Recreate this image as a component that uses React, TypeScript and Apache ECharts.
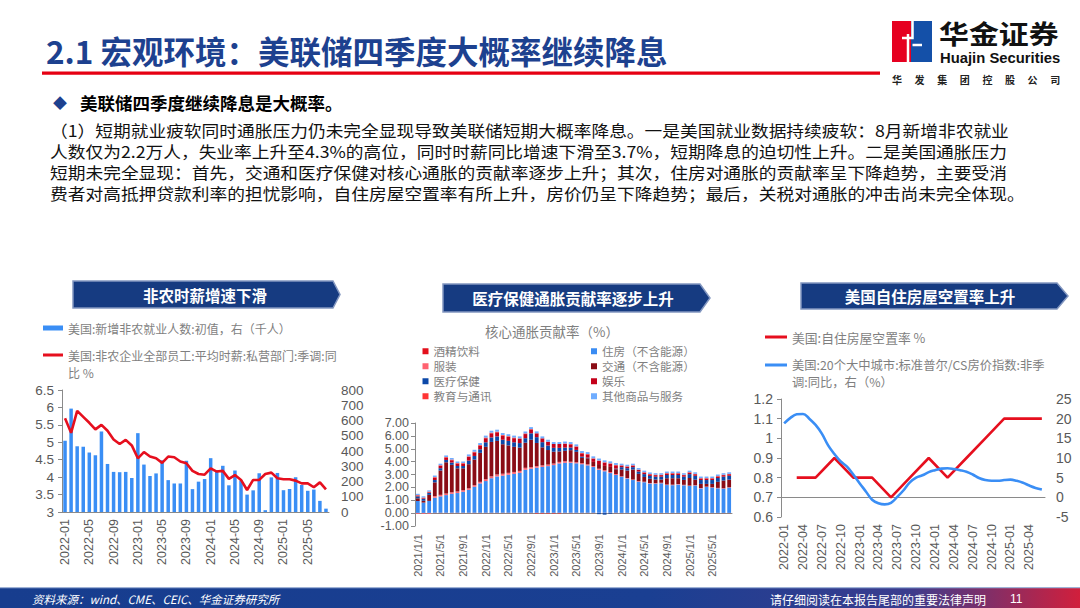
import React, { useEffect, useRef } from 'react';
import * as echarts from 'echarts';

// ---------- Left chart: payrolls & hourly earnings ----------
const payrollMonths = [
  '2022-01','2022-02','2022-03','2022-04','2022-05','2022-06','2022-07','2022-08','2022-09','2022-10','2022-11','2022-12',
  '2023-01','2023-02','2023-03','2023-04','2023-05','2023-06','2023-07','2023-08','2023-09','2023-10','2023-11','2023-12',
  '2024-01','2024-02','2024-03','2024-04','2024-05','2024-06','2024-07','2024-08','2024-09','2024-10','2024-11','2024-12',
  '2025-01','2025-02','2025-03','2025-04','2025-05','2025-06','2025-07','2025-08',
];
const payrollValues = [
  467,678,431,428,390,372,528,315,263,261,263,223,
  517,311,236,253,339,209,187,187,336,150,199,216,
  353,275,303,175,272,206,114,142,254,12,227,256,
  143,151,228,177,139,147,73,22,
];
const wageGrowth = [
  5.69,5.27,5.9,5.73,5.56,5.37,5.5,5.33,5.08,4.95,5.07,4.91,
  4.54,4.72,4.59,4.54,4.41,4.59,4.57,4.45,4.4,4.18,4.09,4.07,
  4.25,4.16,4.18,3.95,4.06,3.92,3.63,3.92,3.92,4.09,4.13,3.97,
  3.94,3.94,3.9,3.82,3.82,3.71,3.85,3.65,
];

// ---------- Middle chart: core CPI contributions ----------
const cpiMonths = [
  '2021/1/1','2021/2/1','2021/3/1','2021/4/1','2021/5/1','2021/6/1','2021/7/1','2021/8/1','2021/9/1','2021/10/1','2021/11/1','2021/12/1',
  '2022/1/1','2022/2/1','2022/3/1','2022/4/1','2022/5/1','2022/6/1','2022/7/1','2022/8/1','2022/9/1','2022/10/1','2022/11/1','2022/12/1',
  '2023/1/1','2023/2/1','2023/3/1','2023/4/1','2023/5/1','2023/6/1','2023/7/1','2023/8/1','2023/9/1','2023/10/1','2023/11/1','2023/12/1',
  '2024/1/1','2024/2/1','2024/3/1','2024/4/1','2024/5/1','2024/6/1','2024/7/1','2024/8/1','2024/9/1','2024/10/1','2024/11/1','2024/12/1',
  '2025/1/1','2025/2/1','2025/3/1','2025/4/1','2025/5/1','2025/6/1','2025/7/1','2025/8/1',
];
const cpiAlcohol = [
  0.02,0.02,0.02,0.03,0.03,0.03,0.03,0.03,0.03,0.03,
  0.03,0.03,0.03,0.03,0.03,0.03,0.03,0.03,0.03,0.03,
  0.03,0.03,0.03,0.03,0.03,0.03,0.03,0.03,0.03,0.03,
  0.03,0.03,0.03,0.03,0.03,0.03,0.02,0.02,0.02,0.02,
  0.02,0.02,0.02,0.02,0.02,0.02,0.02,0.02,0.02,0.02,
  0.02,0.02,0.02,0.02,0.02,0.02,
];
const cpiHousing = [
  0.92,0.80,0.93,1.17,1.27,1.37,1.47,1.53,1.63,1.78,
  2.02,2.28,2.46,2.68,2.82,2.88,2.95,3.02,3.10,3.34,
  3.42,3.50,3.56,3.62,3.70,3.83,3.88,3.88,3.84,3.77,
  3.68,3.55,3.34,3.22,3.08,2.93,2.80,2.67,2.55,2.42,
  2.38,2.28,2.27,2.30,2.16,2.15,2.20,2.14,2.09,2.12,
  1.90,2.01,1.96,1.91,1.88,1.96,
];
const cpiApparel = [
  -0.06,-0.06,-0.06,0.12,0.12,0.12,0.12,0.12,0.12,0.12,
  0.12,0.12,0.15,0.15,0.15,0.15,0.15,0.15,0.15,0.15,
  0.12,0.12,0.12,0.12,0.12,0.12,0.12,0.08,0.08,0.08,
  0.08,0.08,0.08,0.08,0.08,0.08,0.04,0.04,0.04,0.04,
  0.04,0.04,0.04,0.04,0.04,0.04,0.04,0.04,0.03,0.03,
  0.03,0.03,0.03,0.03,0.03,0.03,
];
const cpiTransport = [
  0.21,0.14,0.47,1.07,1.89,2.43,2.13,1.80,1.70,1.87,
  1.99,2.25,2.51,2.67,2.61,2.29,2.13,1.95,1.81,1.95,
  2.13,1.80,1.40,1.13,0.92,0.81,0.81,0.90,0.81,0.41,
  0.47,0.32,0.36,0.34,0.40,0.37,0.53,0.58,0.78,0.57,
  0.37,0.33,0.28,0.25,0.49,0.50,0.45,0.38,0.59,0.43,
  0.32,0.21,0.26,0.47,0.60,0.59,
];
const cpiMedical = [
  0.15,0.15,0.15,0.18,0.18,0.18,0.18,0.18,0.18,0.28,
  0.28,0.28,0.35,0.35,0.35,0.35,0.35,0.35,0.35,0.35,
  0.5,0.45,0.4,0.35,0.3,0.28,0.25,0.2,0.15,0.1,
  0.05,0,-0.08,-0.12,-0.05,0.05,0.18,0.18,0.18,0.18,
  0.22,0.22,0.22,0.22,0.25,0.25,0.25,0.25,0.3,0.3,
  0.3,0.3,0.3,0.3,0.3,0.3,
];
const cpiRecreation = [
  0.05,0.05,0.05,0.18,0.18,0.18,0.18,0.18,0.18,0.28,
  0.28,0.28,0.32,0.32,0.32,0.32,0.32,0.32,0.32,0.32,
  0.3,0.3,0.3,0.3,0.3,0.3,0.3,0.25,0.25,0.25,
  0.25,0.25,0.25,0.25,0.25,0.25,0.12,0.12,0.12,0.12,
  0.12,0.12,0.12,0.12,0.12,0.12,0.12,0.12,0.12,0.12,
  0.12,0.12,0.12,0.12,0.12,0.12,
];
const cpiEducation = [
  0.05,0.05,0.05,0.05,0.05,0.05,0.05,0.05,0.05,0.05,
  0.05,0.05,0.05,0.05,0.05,0.05,0.05,0.05,0.05,0.05,
  0.03,-0.04,-0.04,-0.04,-0.04,-0.04,0.02,0.03,0.03,0.03,
  0.03,0.03,0.03,0.03,0.03,0.03,0.03,0.03,0.03,0.03,
  0.03,0.03,0.03,0.03,0.03,0.03,0.03,0.03,0.03,0.03,
  0.03,0.03,0.03,0.03,0.03,0.03,
];
const cpiOther = [
  0.1,0.1,0.1,0.12,0.12,0.12,0.12,0.12,0.12,0.15,
  0.15,0.15,0.15,0.15,0.15,0.15,0.15,0.15,0.15,0.15,
  0.15,0.15,0.15,0.15,0.15,0.15,0.15,0.15,0.15,0.15,
  0.15,0.15,0.15,0.15,0.15,0.15,0.12,0.12,0.12,0.12,
  0.12,0.12,0.12,0.12,0.12,0.12,0.12,0.12,0.12,0.12,
  0.12,0.12,0.12,0.12,0.12,0.12,
];
const cpiNames = ['酒精饮料','住房（不含能源）','服装','交通（不含能源）','医疗保健','娱乐','教育与通讯','其他商品与服务'];
const cpiColors = ['#e3101c','#3a8cf3','#ff6270','#8a0c16','#0c48a8','#c4001a','#ff3434','#6fadff'];
const cpiSeriesData = [cpiAlcohol, cpiHousing, cpiApparel, cpiTransport, cpiMedical, cpiRecreation, cpiEducation, cpiOther];

// ---------- Right chart: vacancy & Case-Shiller ----------
const housingMonths = [
  '2022-01','2022-02','2022-03','2022-04','2022-05','2022-06','2022-07','2022-08','2022-09','2022-10','2022-11','2022-12',
  '2023-01','2023-02','2023-03','2023-04','2023-05','2023-06','2023-07','2023-08','2023-09','2023-10','2023-11','2023-12',
  '2024-01','2024-02','2024-03','2024-04','2024-05','2024-06','2024-07','2024-08','2024-09','2024-10','2024-11','2024-12',
  '2025-01','2025-02','2025-03','2025-04','2025-05','2025-06',
];
const vacancyRate = [
  null,null,0.8,null,null,0.8,null,null,0.9,null,null,0.8,
  null,null,0.8,null,null,0.7,null,null,0.8,null,null,0.9,
  null,null,0.8,null,null,0.9,null,null,1.0,null,null,1.1,
  null,null,1.1,null,null,1.1,
];
const caseShillerYoY = [
  18.8,20.2,21.1,21.2,20.0,18.4,16.2,13.2,11.0,9.1,7.8,5.8,
  3.6,1.5,-0.6,-1.5,-1.8,-1.4,0.1,1.8,3.8,5.0,5.6,6.4,
  6.9,7.3,7.4,7.2,6.9,6.5,5.8,4.9,4.4,4.2,4.2,4.4,
  4.5,4.2,3.7,3.0,2.4,2.0,
];

// ---------- Slide texts ----------
const slideTitle = '2.1 宏观环境：美联储四季度大概率继续降息';
const bulletText = '美联储四季度继续降息是大概率。';
const paragraphLines = [
  '（1）短期就业疲软同时通胀压力仍未完全显现导致美联储短期大概率降息。一是美国就业数据持续疲软：8月新增非农就业',
  '人数仅为2.2万人，失业率上升至4.3%的高位，同时时薪同比增速下滑至3.7%，短期降息的迫切性上升。二是美国通胀压力',
  '短期未完全显现：首先，交通和医疗保健对核心通胀的贡献率逐步上升；其次，住房对通胀的贡献率呈下降趋势，主要受消',
  '费者对高抵押贷款利率的担忧影响，自住房屋空置率有所上升，房价仍呈下降趋势；最后，关税对通胀的冲击尚未完全体现。',
];
const bannerTitles = ['非农时薪增速下滑', '医疗保健通胀贡献率逐步上升', '美国自住房屋空置率上升'];
const companySub = ['华', '发', '集', '团', '控', '股', '公', '司'];

const PAYROLL_NAME = '美国:新增非农就业人数:初值，右（千人）';
const WAGE_NAME = '美国:非农企业全部员工:平均时薪:私营部门:季调:同比 %';
const VACANCY_NAME = '美国:自住房屋空置率 %';
const CS_NAME = '美国:20个大中城市:标准普尔/CS房价指数:非季调:同比，右（%）';

const FONT = '"Liberation Sans", "Noto Sans CJK SC", sans-serif';
const CJK = '"Noto Sans CJK SC", "Liberation Sans", sans-serif';
const LABEL = '#595959';
const AXIS = { color: '#8a8a8a', width: 1 };
const LEG = '#7f7f7f';

function txt(text: string, x: number, y: number, o: any = {}) {
  const align = o.align || 'left';
  return {
    type: 'text', x, y, scaleX: o.sx || 1, silent: true, z: 10,
    style: {
      text, fill: o.fill || '#000', fontSize: o.size || 14, fontWeight: o.weight || 'normal',
      fontStyle: o.style || 'normal', fontFamily: o.family || CJK,
      textAlign: align, textVerticalAlign: 'middle', align, verticalAlign: 'middle',
    },
  };
}

function banner(points: number[][], title: string, cx: number, cy: number) {
  return [
    { type: 'polygon', silent: true, shape: { points }, style: { fill: '#163b81', stroke: '#8397c0', lineWidth: 1.5 } },
    txt(title, cx, cy, { fill: '#ffffff', size: 15.5, weight: 'bold', align: 'center' }),
  ];
}

function buildOption() {
  const elements: any[] = [];
  // header
  elements.push(txt(slideTitle, 46, 50, { fill: '#1d418f', size: 31.5, weight: 'bold' }));
  elements.push({ type: 'rect', silent: true, shape: { x: 42, y: 71.5, width: 838, height: 3.2 }, style: { fill: '#e60012' } });
  // logo
  elements.push({ type: 'rect', silent: true, shape: { x: 892, y: 21, width: 19, height: 41 }, style: { fill: '#e60020' } });
  elements.push({ type: 'rect', silent: true, shape: { x: 911, y: 21, width: 21, height: 41 }, style: { fill: '#1450a8' } });
  elements.push({ type: 'polyline', silent: true, shape: { points: [[912.5, 21], [912.5, 38], [902, 38]] }, style: { stroke: '#ffffff', lineWidth: 2.5, fill: 'none' } });
  elements.push({ type: 'polyline', silent: true, shape: { points: [[908, 34], [908, 62]] }, style: { stroke: '#ffffff', lineWidth: 2.5, fill: 'none' } });
  elements.push({ type: 'polyline', silent: true, shape: { points: [[912.5, 45], [922, 45]] }, style: { stroke: '#ffffff', lineWidth: 2.5, fill: 'none' } });
  elements.push(txt('华金证券', 939, 33, { fill: '#111111', size: 26, weight: 'bold', sx: 1.15 }));
  elements.push(txt('Huajin Securities', 940, 58.5, { fill: '#111111', size: 14, weight: 'bold', family: FONT, sx: 1.06 }));
  companySub.forEach((c, i) => elements.push(txt(c, 897 + i * 22.6, 79.5, { fill: '#222222', size: 10, weight: 'bold', align: 'center' })));
  // bullet + paragraph
  elements.push(txt('◆', 60, 102, { fill: '#1d418f', size: 14, align: 'center' }));
  elements.push(txt(bulletText, 80, 102, { fill: '#000000', size: 17.5, weight: 'bold' }));
  paragraphLines.forEach((l, i) => elements.push(txt(l, 50, 130 + i * 20.8, { fill: '#111111', size: 16.2, sx: 1.095 })));
  // banners
  elements.push(...banner([[73, 281], [333, 281], [340, 294.5], [333, 308], [73, 308]], bannerTitles[0], 205, 295));
  elements.push(...banner([[443, 284], [700, 284], [710, 298], [700, 312], [443, 312]], bannerTitles[1], 573, 298));
  elements.push(...banner([[801, 283], [1057, 283], [1068, 296], [1057, 309], [801, 309]], bannerTitles[2], 930, 296));
  // footer
  elements.push({
    type: 'rect', silent: true, shape: { x: 0, y: 588, width: 1080, height: 20 },
    style: {
      fill: new echarts.graphic.LinearGradient(0, 0, 1, 0, [
        { offset: 0, color: '#173d8e' }, { offset: 0.6, color: '#1a3f92' },
        { offset: 0.84, color: '#3a3c8e' }, { offset: 1, color: '#d11f3c' },
      ]),
    },
  });
  elements.push({ type: 'rect', silent: true, shape: { x: 0, y: 587, width: 1080, height: 1.2 }, style: { fill: '#9fb2d6' } });
  elements.push(txt('资料来源：wind、CME、CEIC、华金证券研究所', 32, 599, { fill: '#ffffff', size: 11.5, style: 'italic' }));
  elements.push(txt('请仔细阅读在本报告尾部的重要法律声明', 770, 599, { fill: '#ffffff', size: 12 }));
  elements.push(txt('11', 1010, 599, { fill: '#ffffff', size: 12, family: FONT }));

  const legBase = { padding: 0, itemGap: 2, selectedMode: false, itemStyle: { borderWidth: 0 } };

  return {
    animation: false,
    backgroundColor: '#ffffff',
    textStyle: { fontFamily: FONT },
    title: {
      text: '核心通胀贡献率（%）', left: 552, top: 324, textAlign: 'center', padding: 0,
      textStyle: { fontSize: 13.5, fontWeight: 'normal', color: LEG, fontFamily: CJK },
    },
    legend: [
      { ...legBase, data: [PAYROLL_NAME], left: 43, top: 321, icon: 'rect', itemWidth: 20, itemHeight: 5,
        textStyle: { color: LEG, fontSize: 12, lineHeight: 14, fontFamily: CJK } },
      { ...legBase, data: [WAGE_NAME], left: 43, top: 346.5, icon: 'path://M0,0H20V3H0Z M0,20H0.01V20.01H0Z', itemWidth: 20, itemHeight: 20,
        formatter: () => '美国:非农企业全部员工:平均时薪:私营部门:季调:同\n比 %',
        textStyle: { color: LEG, fontSize: 12, lineHeight: 17, fontFamily: CJK } },
      { ...legBase, data: [cpiNames[0], cpiNames[2], cpiNames[4], cpiNames[6]], orient: 'vertical', left: 422.5, top: 344, icon: 'rect',
        itemWidth: 6, itemHeight: 6, itemGap: 0.5, textStyle: { color: LEG, fontSize: 11.6, lineHeight: 14.5, fontFamily: CJK } },
      { ...legBase, data: [cpiNames[1], cpiNames[3], cpiNames[5], cpiNames[7]], orient: 'vertical', left: 591, top: 344, icon: 'rect',
        itemWidth: 6, itemHeight: 6, itemGap: 0.5, textStyle: { color: LEG, fontSize: 11.6, lineHeight: 14.5, fontFamily: CJK } },
      { ...legBase, data: [VACANCY_NAME], left: 765, top: 329.5, icon: 'rect', itemWidth: 22, itemHeight: 3,
        textStyle: { color: LEG, fontSize: 12.8, lineHeight: 15, fontFamily: CJK } },
      { ...legBase, data: [CS_NAME], left: 765, top: 356.75, icon: 'path://M0,0H22V3H0Z M0,19.5H0.01V19.51H0Z', itemWidth: 22, itemHeight: 19.5,
        formatter: () => '美国:20个大中城市:标准普尔/CS房价指数:非季\n调:同比，右（%）',
        textStyle: { color: LEG, fontSize: 12.3, lineHeight: 16.5, fontFamily: CJK } },
    ],
    grid: [
      { left: 62, top: 390, width: 267, height: 122 },
      { left: 415, top: 423, width: 317, height: 103 },
      { left: 781, top: 399, width: 264, height: 118 },
    ],
    xAxis: [
      { type: 'category', gridIndex: 0, data: payrollMonths, axisLine: { lineStyle: AXIS },
        axisTick: { interval: 3, length: 4, lineStyle: AXIS },
        axisLabel: { interval: 3, rotate: 90, fontSize: 12.5, color: LABEL, margin: 7 } },
      { type: 'category', gridIndex: 1, data: cpiMonths, position: 'bottom',
        axisLine: { show: false, onZero: false }, axisTick: { show: false },
        axisLabel: { interval: 3, rotate: 90, fontSize: 11, color: LABEL, margin: 8 } },
      { type: 'category', gridIndex: 1, data: cpiMonths, position: 'bottom',
        axisLine: { onZero: true, lineStyle: AXIS }, axisTick: { interval: 3, length: 4, lineStyle: AXIS },
        axisLabel: { show: false } },
      { type: 'category', gridIndex: 2, data: housingMonths, axisLine: { lineStyle: AXIS },
        axisTick: { interval: 2, length: 4, lineStyle: AXIS },
        axisLabel: { interval: 2, rotate: 90, fontSize: 12.5, color: LABEL, margin: 7 } },
    ],
    yAxis: [
      { type: 'value', gridIndex: 0, min: 3, max: 6.5, interval: 0.5,
        axisLine: { show: true, lineStyle: AXIS }, axisTick: { show: true, length: 4, lineStyle: AXIS },
        splitLine: { show: false }, axisLabel: { fontSize: 13.5, color: LABEL, margin: 8 } },
      { type: 'value', gridIndex: 0, min: 0, max: 800, interval: 100, position: 'right',
        axisLine: { show: false }, axisTick: { show: false }, splitLine: { show: false },
        axisLabel: { fontSize: 13.5, color: LABEL, margin: 12 } },
      { type: 'value', gridIndex: 1, min: -1, max: 7, interval: 1,
        axisLine: { show: true, lineStyle: AXIS }, axisTick: { show: true, length: 4, lineStyle: AXIS },
        splitLine: { show: false },
        axisLabel: { fontSize: 12.5, color: LABEL, margin: 6, formatter: (v: number) => v.toFixed(2) } },
      { type: 'value', gridIndex: 2, min: 0.6, max: 1.2, interval: 0.1,
        axisLine: { show: true, lineStyle: AXIS }, axisTick: { show: true, length: 4, lineStyle: AXIS },
        splitLine: { show: false },
        axisLabel: { fontSize: 14, color: LABEL, margin: 8, formatter: (v: number) => String(Math.round(v * 10) / 10) } },
      { type: 'value', gridIndex: 2, min: -5, max: 25, interval: 5, position: 'right',
        axisLine: { show: false }, axisTick: { show: false }, splitLine: { show: false },
        axisLabel: { fontSize: 14, color: LABEL, margin: 11 } },
    ],
    series: [
      { name: PAYROLL_NAME, type: 'bar', xAxisIndex: 0, yAxisIndex: 1, data: payrollValues, barWidth: 3.5,
        itemStyle: { color: '#3a8ef5' } },
      { name: WAGE_NAME, type: 'line', xAxisIndex: 0, yAxisIndex: 0, data: wageGrowth, symbol: 'none',
        lineStyle: { color: '#e60f1e', width: 2.6 }, itemStyle: { color: '#e60f1e' } },
      ...cpiNames.map((n, i) => ({
        name: n, type: 'bar', stack: 'cpi', xAxisIndex: 1, yAxisIndex: 2, data: cpiSeriesData[i], barWidth: 3.8,
        itemStyle: { color: cpiColors[i] },
      })),
      { name: VACANCY_NAME, type: 'line', xAxisIndex: 3, yAxisIndex: 3, data: vacancyRate, connectNulls: true, symbol: 'none',
        lineStyle: { color: '#e60f1e', width: 2.6 }, itemStyle: { color: '#e60f1e' } },
      { name: CS_NAME, type: 'line', xAxisIndex: 3, yAxisIndex: 4, data: caseShillerYoY, smooth: 0.4, symbol: 'none',
        lineStyle: { color: '#3a8ef5', width: 2.6 }, itemStyle: { color: '#3a8ef5' } },
    ],
    graphic: { elements },
  };
}

export default function App() {
  const ref = useRef<HTMLDivElement>(null);
  useEffect(() => {
    if (!ref.current) return;
    const chart = echarts.init(ref.current, null, { renderer: 'svg' });
    chart.setOption(buildOption() as any);
    return () => chart.dispose();
  }, []);
  return (
    <div
      ref={ref}
      style={{ position: 'fixed', left: 0, top: 0, width: 1080, height: 608, background: '#ffffff' }}
    />
  );
}
